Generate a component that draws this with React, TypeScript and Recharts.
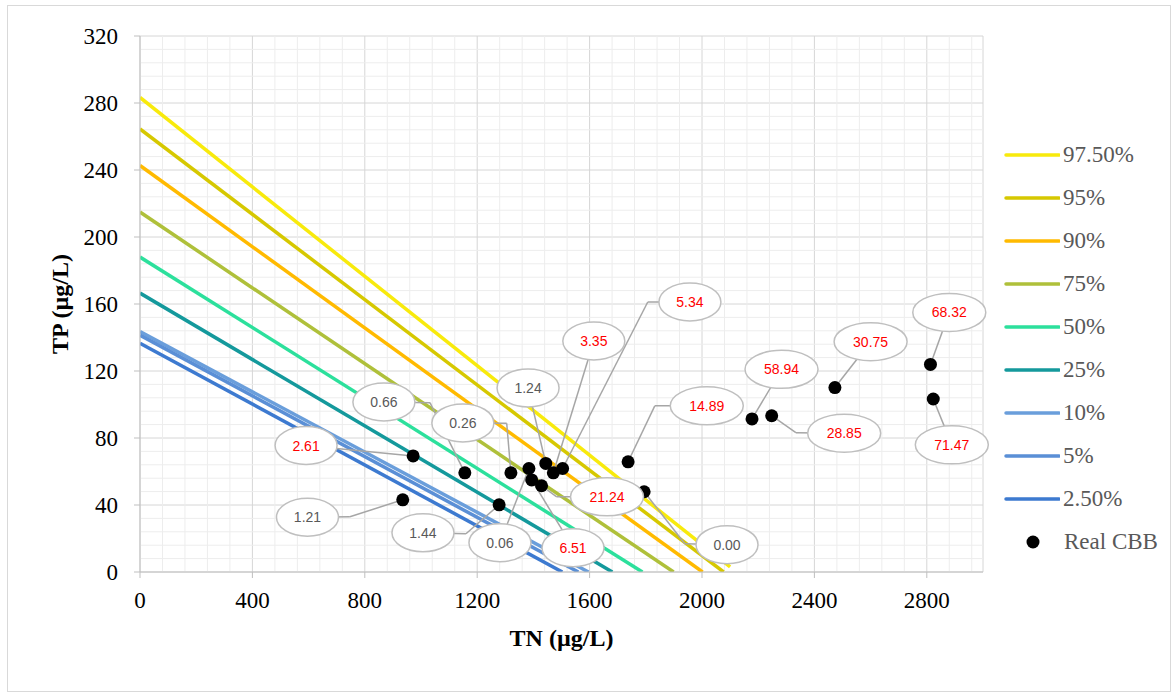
import {
  CartesianGrid,
  ComposedChart,
  Legend,
  Line,
  ReferenceDot,
  ReferenceLine,
  Scatter,
  XAxis,
  YAxis,
} from "recharts";

// percentile lines: TP at TN = 0, and where each line leaves the plot
const percentiles = ["97.50%", "95%", "90%", "75%", "50%", "25%", "10%", "5%", "2.50%"];
const lineStartTP = [283.3, 264.5, 242.7, 214.9, 188, 166.5, 143.6, 141.4, 136.6];
const lineEndTN = [2100, 2077, 2002, 1899, 1788, 1681, 1596, 1560, 1503];
const lineEndTP = [3, 0, 0, 0, 0, 0, 0, 0, 0];
const lineColors = ["#F8EA0C", "#D6C800", "#FFBA00", "#AFC03A", "#2CE09C", "#14999C", "#6A9EDB", "#5A8FD6", "#3D7AD0"];

// Real CBB points
const cbbTN = [972, 935, 1156, 1320, 1384, 1394, 1429, 1444, 1471, 1504, 1737, 1794, 1278, 2178, 2248, 2473, 2813, 2823];
const cbbTP = [69.3, 43.1, 59.2, 59.2, 61.8, 55, 51.5, 64.8, 59.2, 61.8, 65.8, 47.9, 40.1, 91.4, 93.3, 110.1, 123.9, 103.3];
const cbbValue = ["2.61", "1.21", "0.66", "0.26", "0.06", "6.51", "21.24", "1.24", "3.35", "5.34", "14.89", "0.00", "1.44", "58.94", "28.85", "30.75", "68.32", "71.47"];

// callout bubble centres and leader-line elbows (data units)
const calloutTN = [591, 596, 868, 1149, 1281, 1541, 1662, 1381, 1615, 1957, 2017, 2089, 1007, 2283, 2506, 2600, 2880, 2889];
const calloutTP = [75.5, 32.7, 101.5, 89, 17.5, 14.5, 44.9, 109.9, 137.9, 161.2, 99.2, 16.3, 23.4, 121, 82.9, 137.5, 155, 75.9];
const elbowTN = [null, 747, 1032, 1305, null, null, 1483, null, null, 1807, 1832, 1939, 1160, null, 2334, null, null, null];
const elbowTP = [null, 33, 101.1, 88.8, null, null, 44.9, null, null, 161.2, 99.2, 16.9, 22.8, null, 83.2, null, null, null];

const xTicks = [0, 400, 800, 1200, 1600, 2000, 2400, 2800];
const yTicks = [0, 40, 80, 120, 160, 200, 240, 280, 320];
const xMinor = Array.from({ length: 37 }, (_, i) => (i + 1) * 80).filter((v) => v % 400 !== 0);
const yMinor = Array.from({ length: 39 }, (_, i) => (i + 1) * 8).filter((v) => v % 40 !== 0);

const serif = "'Liberation Serif', 'Times New Roman', serif";
const sans = "'Liberation Sans', Arial, sans-serif";

const lines = percentiles.map((name, i) => ({
  name,
  color: lineColors[i],
  data: [
    { tn: 0, tp: lineStartTP[i] },
    { tn: lineEndTN[i], tp: lineEndTP[i] },
  ],
}));

const points = cbbTN.map((tn, i) => ({ tn, tp: cbbTP[i], value: cbbValue[i] }));

const renderLegend = (props: any) => {
  const items = [...(props.payload || [])].sort((a: any, b: any) => {
    const ia = percentiles.indexOf(a.value);
    const ib = percentiles.indexOf(b.value);
    return (ia < 0 ? 99 : ia) - (ib < 0 ? 99 : ib);
  });
  return (
    <div style={{ fontFamily: serif, fontSize: 23, color: "#595959" }}>
      {items.map((entry: any) => (
        <div key={entry.value} style={{ height: 43, display: "flex", alignItems: "center" }}>
          <svg width={60} height={20}>
            {entry.value === "Real CBB" ? (
              <circle cx={33} cy={10} r={6.5} fill="#000" />
            ) : (
              <line x1={6} x2={59} y1={10} y2={10} stroke={entry.color} strokeWidth={3.5} strokeLinecap="round" />
            )}
          </svg>
          <span style={{ marginLeft: entry.value === "Real CBB" ? 4 : 3, lineHeight: "23px", whiteSpace: "nowrap" }}>
            {entry.value}
          </span>
        </div>
      ))}
    </div>
  );
};

const Bubble = (text: string) => (props: any) => {
  const red = parseFloat(text) >= 2;
  const rx = text.length > 4 ? 36.5 : 31;
  return (
    <g>
      <ellipse cx={props.cx} cy={props.cy} rx={rx} ry={19} fill="#fff" stroke="#BFBFBF" strokeWidth={1.5} />
      <text
        x={props.cx}
        y={props.cy}
        dy={5}
        textAnchor="middle"
        fontFamily={sans}
        fontSize={14}
        fill={red ? "#FF0000" : "#595959"}
      >
        {text}
      </text>
    </g>
  );
};

export default function App() {
  return (
    <div style={{ position: "absolute", left: 0, top: 0, width: 1172, height: 693, background: "#fff" }}>
      <div
        style={{
          position: "absolute",
          left: 7,
          top: 5,
          width: 1164,
          height: 687,
          boxSizing: "border-box",
          border: "1px solid #D9D9D9",
        }}
      />
      <ComposedChart
        width={1172}
        height={693}
        margin={{ top: 36, right: 189, bottom: 81, left: 80 }}
        style={{ fontFamily: serif }}
      >
        {xMinor.map((v) => (
          <ReferenceLine key={`mx${v}`} x={v} stroke="#EDEDED" strokeWidth={1} />
        ))}
        {yMinor.map((v) => (
          <ReferenceLine key={`my${v}`} y={v} stroke="#EDEDED" strokeWidth={1} />
        ))}
        <CartesianGrid stroke="#D6D6D6" strokeWidth={1} />
        <XAxis
          type="number"
          dataKey="tn"
          domain={[0, 3000]}
          ticks={xTicks}
          interval={0}
          allowDataOverflow
          height={40}
          tickSize={6}
          tickMargin={14}
          axisLine={{ stroke: "#BFBFBF" }}
          tickLine={{ stroke: "#BFBFBF" }}
          tick={{ fill: "#000", fontSize: 23, fontFamily: serif }}
          label={{
            value: "TN (µg/L)",
            position: "bottom",
            offset: 17,
            fill: "#000",
            fontSize: 24,
            fontWeight: "bold",
            fontFamily: serif,
          }}
        />
        <YAxis
          type="number"
          domain={[0, 320]}
          ticks={yTicks}
          interval={0}
          allowDataOverflow
          width={60}
          tickSize={6}
          tickMargin={16}
          axisLine={{ stroke: "#BFBFBF" }}
          tickLine={{ stroke: "#BFBFBF" }}
          tick={{ fill: "#000", fontSize: 23, fontFamily: serif }}
          label={{
            content: ({ viewBox }: any) => {
              const x = viewBox.x - 12;
              const y = viewBox.y + viewBox.height / 2;
              return (
                <text
                  x={x}
                  y={y}
                  transform={`rotate(-90, ${x}, ${y})`}
                  textAnchor="middle"
                  fill="#000"
                  fontSize={24}
                  fontWeight="bold"
                  fontFamily={serif}
                >
                  TP (µg/L)
                </text>
              );
            },
          }}
        />
        <Legend
          layout="vertical"
          align="center"
          verticalAlign="middle"
          content={renderLegend}
          wrapperStyle={{ left: 1000, top: 133, width: 172 }}
        />
        {lines.map((l) => (
          <Line
            key={l.name}
            name={l.name}
            data={l.data}
            dataKey="tp"
            type="linear"
            stroke={l.color}
            strokeWidth={3.5}
            dot={false}
            activeDot={false}
            legendType="line"
            isAnimationActive={false}
          />
        ))}
        <Scatter
          name="Real CBB"
          data={points}
          dataKey="tp"
          fill="#000"
          legendType="circle"
          isAnimationActive={false}
          shape={(p: any) => <circle cx={p.cx} cy={p.cy} r={6.5} fill="#000" />}
        />
        {cbbTN.map((tn, i) =>
          elbowTN[i] === null ? (
            <ReferenceLine
              key={`c${i}`}
              segment={[
                { x: calloutTN[i], y: calloutTP[i] },
                { x: tn, y: cbbTP[i] },
              ]}
              stroke="#A6A6A6"
              strokeWidth={1.5}
            />
          ) : (
            [
              <ReferenceLine
                key={`a${i}`}
                segment={[
                  { x: calloutTN[i], y: calloutTP[i] },
                  { x: elbowTN[i], y: elbowTP[i] },
                ]}
                stroke="#A6A6A6"
                strokeWidth={1.5}
              />,
              <ReferenceLine
                key={`b${i}`}
                segment={[
                  { x: elbowTN[i], y: elbowTP[i] },
                  { x: tn, y: cbbTP[i] },
                ]}
                stroke="#A6A6A6"
                strokeWidth={1.5}
              />,
            ]
          )
        )}
        {cbbValue.map((v, i) => (
          <ReferenceDot key={`d${i}`} x={calloutTN[i]} y={calloutTP[i]} r={1} shape={Bubble(v)} />
        ))}
      </ComposedChart>
    </div>
  );
}
